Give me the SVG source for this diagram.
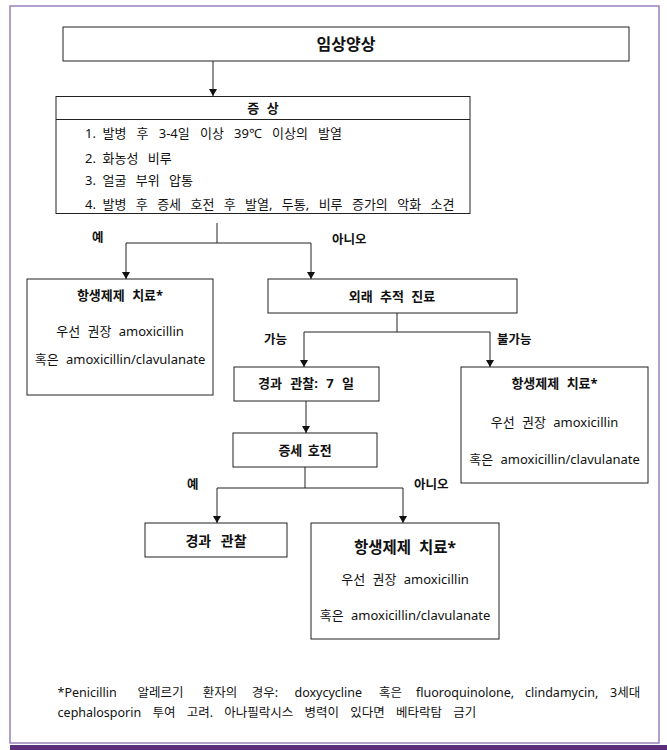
<svg xmlns="http://www.w3.org/2000/svg" width="667" height="750" viewBox="0 0 667 750">
<style>
text{font-family:"Noto Sans","Noto Sans CJK KR",sans-serif;fill:#111;}
.b{font-weight:bold;}
.t{font-size:13px;word-spacing:4px;}
.i{word-spacing:6px;}
.l{font-size:12.5px;font-weight:bold;}
.h{font-size:13px;font-weight:bold;word-spacing:4px;}
.box{fill:#fff;stroke:#222;stroke-width:1;}
.c{fill:none;stroke:#222;stroke-width:1;}
.m{text-anchor:middle;}
.f{font-size:12.5px;}
</style>
<defs>
<marker id="ah" markerWidth="7" markerHeight="8" refX="7" refY="4" orient="auto" markerUnits="userSpaceOnUse">
<path d="M0,0 L7,4 L0,8 z" fill="#111"/>
</marker>
</defs>
<rect x="0" y="0" width="667" height="750" fill="#fff"/>
<rect x="10" y="6" width="649" height="737" fill="#fff" stroke="#9a7fbf" stroke-width="1.5"/>
<rect x="10" y="745" width="657" height="5" fill="#5c2d78"/>

<g id="connectors">
<line class="c" x1="213" y1="61" x2="213" y2="96" marker-end="url(#ah)"/>
<line class="c" x1="217" y1="223" x2="217" y2="243"/>
<line class="c" x1="126" y1="243" x2="311" y2="243"/>
<line class="c" x1="126" y1="243" x2="126" y2="279" marker-end="url(#ah)"/>
<line class="c" x1="311" y1="243" x2="311" y2="279" marker-end="url(#ah)"/>
<line class="c" x1="397" y1="313" x2="397" y2="332"/>
<line class="c" x1="304" y1="332" x2="490" y2="332"/>
<line class="c" x1="304" y1="332" x2="304" y2="367" marker-end="url(#ah)"/>
<line class="c" x1="490" y1="332" x2="490" y2="367" marker-end="url(#ah)"/>
<line class="c" x1="306" y1="401" x2="306" y2="433" marker-end="url(#ah)"/>
<line class="c" x1="305" y1="467" x2="305" y2="488"/>
<line class="c" x1="217" y1="488" x2="403" y2="488"/>
<line class="c" x1="217" y1="488" x2="217" y2="523" marker-end="url(#ah)"/>
<line class="c" x1="403" y1="488" x2="403" y2="523" marker-end="url(#ah)"/>
<text class="l" x="92" y="242">예</text>
<text class="l" x="332" y="244">아니오</text>
<text class="l" x="264" y="344">가능</text>
<text class="l" x="497" y="344">불가능</text>
<text class="l" x="187" y="489">예</text>
<text class="l" x="414" y="489">아니오</text>
</g>

<g id="clinical">
<rect class="box" x="63" y="27" width="566" height="34"/>
<text class="m b" x="346" y="49.5" font-size="16">임상양상</text>
</g>

<g id="symptoms">
<rect class="box" x="56" y="96.5" width="414" height="117"/>
<line class="c" x1="56" y1="119.5" x2="470" y2="119.5"/>
<text class="h m" x="263" y="113">증 상</text>
<text class="t" x="85" y="137.5">1.</text>
<text class="t" x="102.5" y="137.5" style="word-spacing:6.8px">발병 후 3-4일 이상 39℃ 이상의 발열</text>
<text class="t" x="85" y="162.5">2.</text>
<text class="t i" x="102.5" y="162.5">화농성 비루</text>
<text class="t" x="85" y="185">3.</text>
<text class="t i" x="102.5" y="185">얼굴 부위 압통</text>
<text class="t" x="85" y="209">4.</text>
<text class="t i" x="102.5" y="209">발병 후 증세 호전 후 발열, 두통, 비루 증가의 악화 소견</text>
</g>

<g id="abx1">
<rect class="box" x="27" y="279" width="186" height="116"/>
<text class="h m" x="120" y="300">항생제제 치료*</text>
<text class="t m" x="120" y="336">우선 권장 amoxicillin</text>
<text class="t m" x="120" y="364">혹은 amoxicillin/clavulanate</text>
</g>

<g id="followup">
<rect class="box" x="268" y="279" width="249" height="34"/>
<text class="h m" x="392" y="301">외래 추적 진료</text>
</g>

<g id="observe7">
<rect class="box" x="234" y="367" width="145" height="34"/>
<text class="h m" x="306" y="388" style="word-spacing:5px">경과 관찰: 7 일</text>
</g>

<g id="abx2">
<rect class="box" x="461" y="367" width="187" height="116"/>
<text class="h m" x="554.5" y="388">항생제제 치료*</text>
<text class="t m" x="554.5" y="427">우선 권장 amoxicillin</text>
<text class="t m" x="554.5" y="464">혹은 amoxicillin/clavulanate</text>
</g>

<g id="improve">
<rect class="box" x="233" y="433" width="144" height="34"/>
<text class="h m" x="305" y="455" style="word-spacing:2px">증세 호전</text>
</g>

<g id="observe">
<rect class="box" x="145" y="523" width="142" height="34"/>
<text class="m b" x="216" y="546" font-size="14" style="word-spacing:6px">경과 관찰</text>
</g>

<g id="abx3">
<rect class="box" x="311" y="523" width="188" height="116"/>
<text class="m b" x="405" y="553" font-size="15.5" style="word-spacing:4px">항생제제 치료*</text>
<text class="t m" x="405" y="584">우선 권장 amoxicillin</text>
<text class="t m" x="405" y="620">혹은 amoxicillin/clavulanate</text>
</g>

<g id="footnote">
<text class="f" y="697"><tspan x="57.6">*Penicillin</tspan><tspan x="137.4">알레르기</tspan><tspan x="202.7">환자의</tspan><tspan x="251.8">경우:</tspan><tspan x="294.5">doxycycline</tspan><tspan x="379">혹은</tspan><tspan x="416">fluoroquinolone,</tspan><tspan x="525">clindamycin,</tspan><tspan x="610">3세대</tspan></text>
<text class="f" x="57.6" y="717" style="word-spacing:8px">cephalosporin 투여 고려. 아나필락시스 병력이 있다면 베타락탐 금기</text>
</g>
</svg>
